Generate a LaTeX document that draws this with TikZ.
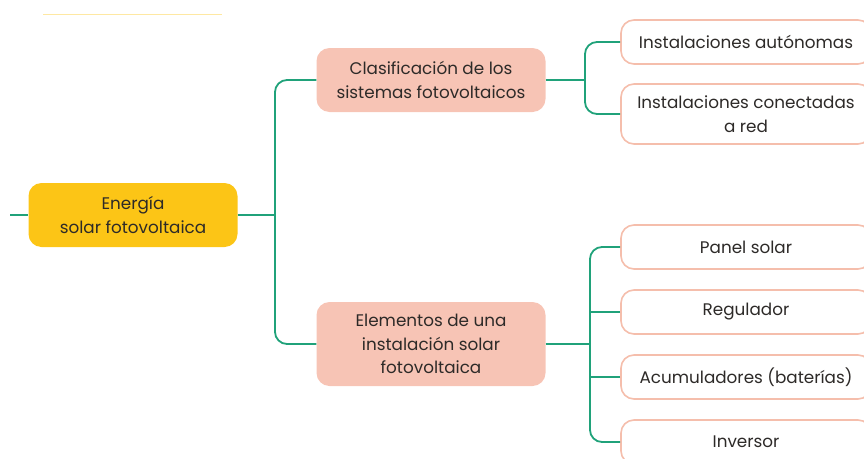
\documentclass[tikz,border=0pt]{standalone}
\usepackage{fontspec}
\setmainfont{Poppins}
\definecolor{sunyellow}{RGB}{252,197,22}
\definecolor{salmon}{RGB}{247,196,181}
\definecolor{salmonline}{RGB}{245,190,172}
\definecolor{branchgreen}{RGB}{32,162,122}
\definecolor{inkdark}{RGB}{45,42,40}
\colorlet{paleyellow}{sunyellow!40}

\begin{document}
\begin{tikzpicture}[x=1pt, y=-1pt,
  box/.style={rounded corners=13pt, align=center, inner sep=0pt, text=inkdark,
    font=\fontsize{16.8}{23.5}\selectfont},
  topic/.style={box, fill=sunyellow, minimum width=209pt, minimum height=64pt},
  branch/.style={box, fill=salmon, minimum width=229pt},
  leaf/.style={box, draw=salmonline, line width=1.6pt, fill=white, minimum width=250pt},
  conn/.style={draw=branchgreen, line width=1.8pt, rounded corners=12pt}]
  \clip (0,0) rectangle (864,458);
  \useasboundingbox (0,0) rectangle (864,458);
  \draw[paleyellow, line width=1pt] (43,14) -- (222,14);
\node[topic] (energia) at (133,215) {Energía\\solar fotovoltaica};
\node[branch, minimum height=64pt] (clasif) at (431,80) {Clasificación de los\\sistemas fotovoltaicos};
\node[branch, minimum height=84pt] (elem) at (431,344) {Elementos de una\\instalación solar\\fotovoltaica};
\node[leaf, minimum height=44pt] (auton) at (746,42) {Instalaciones autónomas};
\node[leaf, minimum height=60pt] (conect) at (746,114) {Instalaciones conectadas\\a red};
\node[leaf, minimum height=44pt] (panel) at (746,247) {Panel solar};
\node[leaf, minimum height=44pt] (regul) at (746,312) {Regulador};
\node[leaf, minimum height=44pt] (acum) at (746,377) {Acumuladores (baterías)};
\node[leaf, minimum height=44pt] (inver) at (746,442) {Inversor};
\coordinate (entrada) at (10,215);
\coordinate (tronco) at (275,215);
\coordinate (horqA) at (585,80);
\coordinate (horqB) at (590,344);
\draw[conn] (entrada) -- (energia.west);
\draw[conn] (energia.east) -- (tronco);
\draw[conn] (clasif.west) -| (tronco);
\draw[conn] (elem.west) -| (tronco);
\draw[conn] (clasif.east) -- (horqA);
\draw[conn] (auton.west) -| (horqA);
\draw[conn] (conect.west) -| (horqA);
\draw[conn] (elem.east) -- (horqB);
\draw[conn] (panel.west) -| (horqB);
\draw[conn] (regul.west) -- (regul.west -| horqB);
\draw[conn] (acum.west) -- (acum.west -| horqB);
\draw[conn] (inver.west) -| (horqB);

\end{tikzpicture}
\end{document}
